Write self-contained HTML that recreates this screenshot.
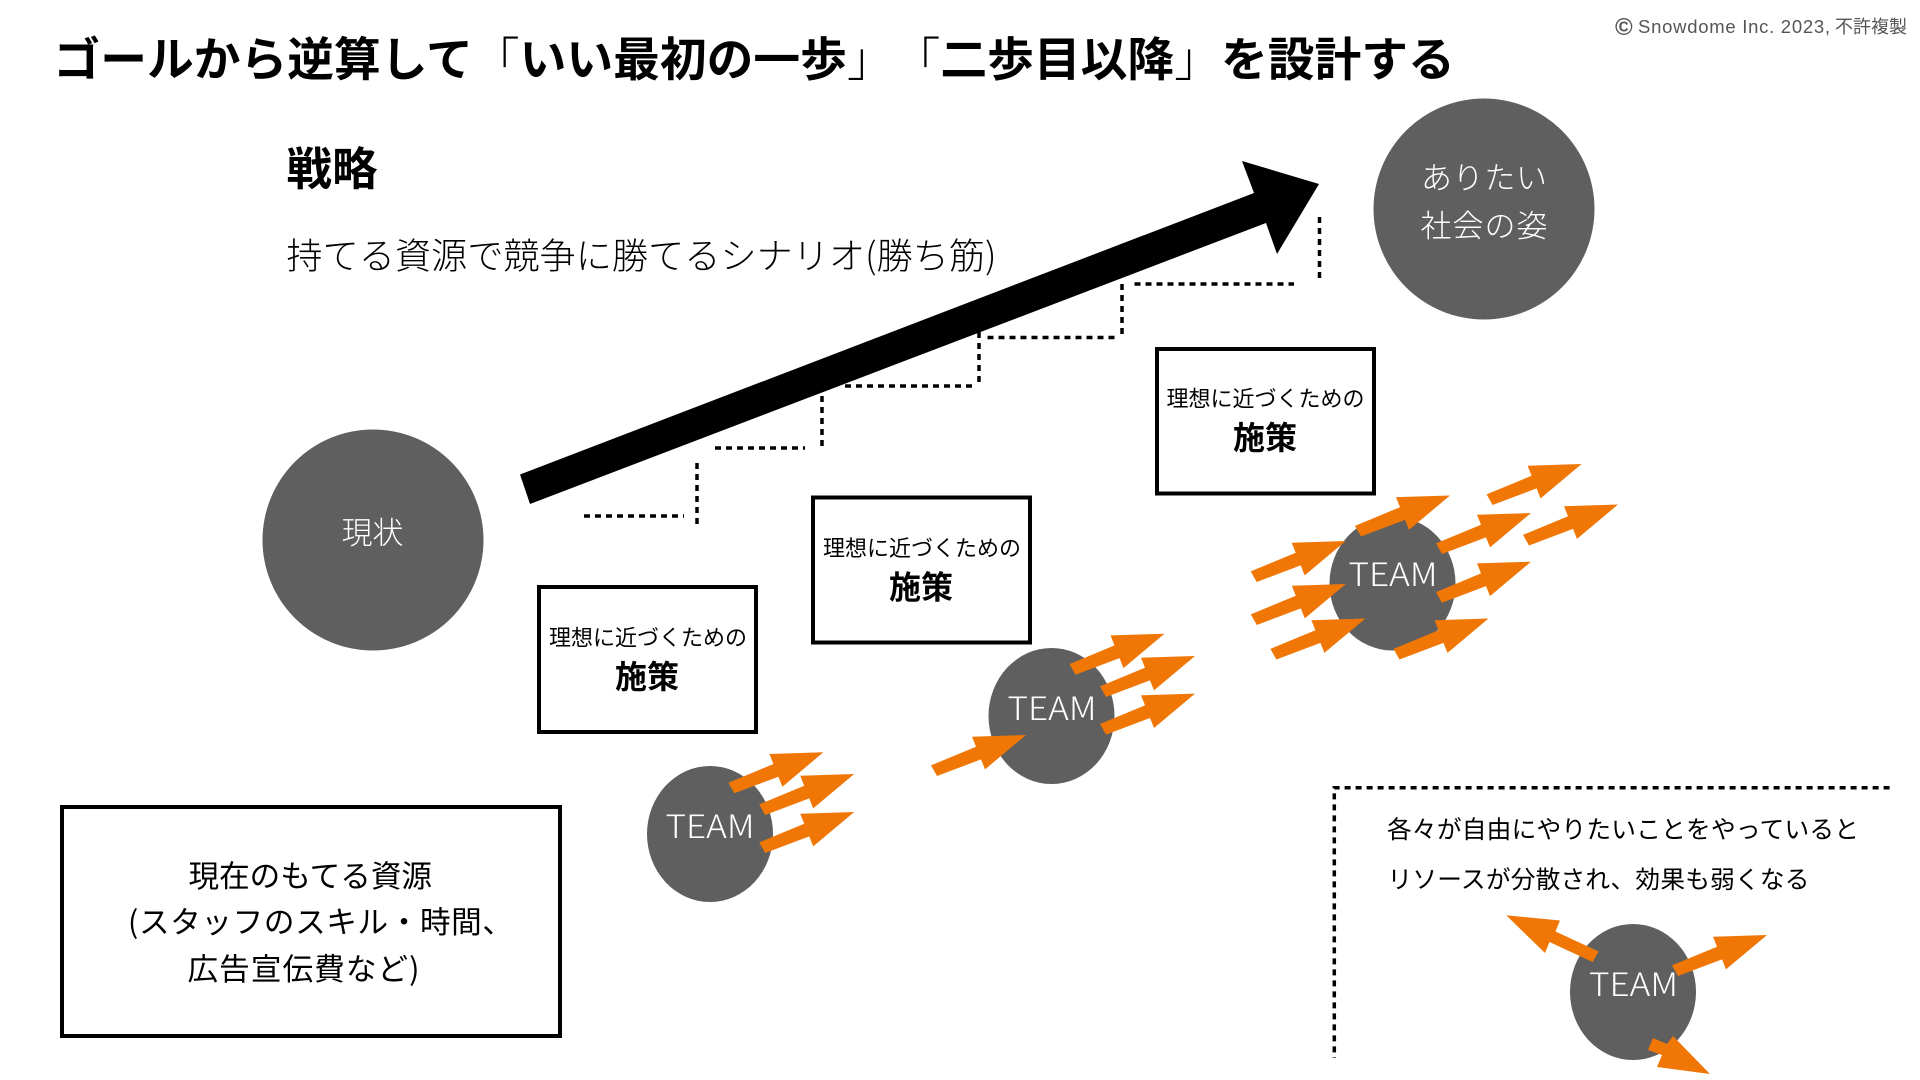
<!DOCTYPE html>
<html lang="ja">
<head>
<meta charset="utf-8">
<title>ゴールから逆算して</title>
<style>
html,body{margin:0;padding:0;background:#fff;width:1920px;height:1080px;overflow:hidden}
svg{display:block}
text{font-family:"Liberation Sans","Noto Sans CJK JP",sans-serif;font-weight:400;fill:#000;text-spacing-trim:space-all}
.j{font-family:"Noto Sans CJK JP","Liberation Sans",sans-serif}
.l{font-weight:300}
.b{font-weight:700}
.w{fill:#fff;font-weight:300}
.t{font-family:"Noto Sans CJK JP","Liberation Sans",sans-serif;font-size:32px;font-weight:300;fill:#fff}
.d{fill:none;stroke:#000;stroke-width:3.5;stroke-dasharray:6 5}
.o{fill:#f07705}
.g{fill:#5f5f5f}
.r{fill:#fff;stroke:#000;stroke-width:4}
.c{fill:#555}
</style>
</head>
<body>
<svg width="1920" height="1080" viewBox="0 0 1920 1080" xmlns="http://www.w3.org/2000/svg">
<rect width="1920" height="1080" fill="#fff"/>

<text class="j b" x="53.5" y="76" font-size="46.75">ゴールから逆算して<tspan font-weight="300">「</tspan>いい最初の一歩<tspan font-weight="300">」「</tspan>二歩目以降<tspan font-weight="300">」</tspan>を設計する</text>
<text class="c b" x="1615" y="35" font-size="24">©</text>
<text class="c" x="1638" y="33" font-size="18.5" textLength="192" lengthAdjust="spacing">Snowdome Inc. 2023,</text>
<text class="j c" x="1835" y="33" font-size="18">不許複製</text>

<text class="j b" x="286.5" y="185" font-size="45.5">戦略</text>
<text class="j l" x="286.5" y="268.5" font-size="36" textLength="710" lengthAdjust="spacing">持てる資源で競争に勝てるシナリオ(勝ち筋)</text>

<polygon points="520,474.5 530,504 1266,223 1277,254 1319,184 1242,161 1254,193" fill="#000"/>

<path class="d" d="M584 516H684M697 463V527M715 448H805M822 396V450M845 386H977M979 332V386M987.5 337.5H1116M1122 284V339M1134.5 284H1294M1319.5 217V282"/>

<circle class="g" cx="373" cy="540" r="110.5"/>
<circle class="g" cx="1484" cy="209" r="110.5"/>
<text class="j w" x="341.5" y="544" font-size="31">現状</text>
<text class="j w" x="1421" y="189" font-size="31" textLength="126" lengthAdjust="spacing">ありたい</text>
<text class="j w" x="1420.5" y="237" font-size="31" textLength="127" lengthAdjust="spacing">社会の姿</text>

<rect class="r" x="539" y="587" width="217" height="145"/>
<text class="j" x="549" y="645.5" font-size="22">理想に近づくための</text>
<text class="j b" x="615" y="688" font-size="32">施策</text>

<rect class="r" x="813" y="497.5" width="217" height="145"/>
<text class="j" x="823" y="556" font-size="22">理想に近づくための</text>
<text class="j b" x="889" y="598.5" font-size="32">施策</text>

<rect class="r" x="1157" y="349" width="217" height="144.5"/>
<text class="j" x="1166.5" y="406.5" font-size="22">理想に近づくための</text>
<text class="j b" x="1233" y="449" font-size="32">施策</text>

<rect class="r" x="62" y="807" width="498" height="229"/>
<text class="j" x="188.5" y="887" font-size="30.6">現在のもてる資源</text>
<text class="j" x="128" y="933" font-size="30.6" textLength="385" lengthAdjust="spacing">(スタッフのスキル・時間、</text>
<text class="j" x="187.5" y="980" font-size="30.6" textLength="232" lengthAdjust="spacing">広告宣伝費など)</text>

<ellipse class="g" cx="710" cy="834" rx="63" ry="68"/>
<ellipse class="g" cx="1051.5" cy="716" rx="63" ry="68"/>
<ellipse class="g" cx="1392.5" cy="583.5" rx="63" ry="67"/>
<ellipse class="g" cx="1633" cy="992" rx="63" ry="68"/>
<text class="t" x="665.5" y="838" textLength="89" lengthAdjust="spacingAndGlyphs">TEAM</text>
<text class="t" x="1007.5" y="720" textLength="89" lengthAdjust="spacingAndGlyphs">TEAM</text>
<text class="t" x="1348.5" y="586" textLength="89" lengthAdjust="spacingAndGlyphs">TEAM</text>
<text class="t" x="1589" y="996" textLength="89" lengthAdjust="spacingAndGlyphs">TEAM</text>

<g class="o">
<polygon transform="translate(823.4 752.3)" points="0,0 -41,34.4 -45,24.4 -89,41 -95,30.4 -50,11.7 -54,1.7"/>
<polygon transform="translate(854.2 774)" points="0,0 -41,34.4 -45,24.4 -89,41 -95,30.4 -50,11.7 -54,1.7"/>
<polygon transform="translate(854.2 812)" points="0,0 -41,34.4 -45,24.4 -89,41 -95,30.4 -50,11.7 -54,1.7"/>
<polygon transform="translate(1164.5 633.7)" points="0,0 -41,34.4 -45,24.4 -89,41 -95,30.4 -50,11.7 -54,1.7"/>
<polygon transform="translate(1195 656)" points="0,0 -41,34.4 -45,24.4 -89,41 -95,30.4 -50,11.7 -54,1.7"/>
<polygon transform="translate(1195 693.6)" points="0,0 -41,34.4 -45,24.4 -89,41 -95,30.4 -50,11.7 -54,1.7"/>
<polygon transform="translate(1026 735)" points="0,0 -41,34.4 -45,24.4 -89,41 -95,30.4 -50,11.7 -54,1.7"/>
<polygon transform="translate(1345.7 541)" points="0,0 -41,34.4 -45,24.4 -89,41 -95,30.4 -50,11.7 -54,1.7"/>
<polygon transform="translate(1345.8 584)" points="0,0 -41,34.4 -45,24.4 -89,41 -95,30.4 -50,11.7 -54,1.7"/>
<polygon transform="translate(1365.4 618.5)" points="0,0 -41,34.4 -45,24.4 -89,41 -95,30.4 -50,11.7 -54,1.7"/>
<polygon transform="translate(1531 561.7)" points="0,0 -41,34.4 -45,24.4 -89,41 -95,30.4 -50,11.7 -54,1.7"/>
<polygon transform="translate(1488.5 618.5)" points="0,0 -41,34.4 -45,24.4 -89,41 -95,30.4 -50,11.7 -54,1.7"/>
<polygon transform="translate(1450 495.5)" points="0,0 -41,34.4 -45,24.4 -89,41 -95,30.4 -50,11.7 -54,1.7"/>
<polygon transform="translate(1581.6 464)" points="0,0 -41,34.4 -45,24.4 -89,41 -95,30.4 -50,11.7 -54,1.7"/>
<polygon transform="translate(1531 513)" points="0,0 -41,34.4 -45,24.4 -89,41 -95,30.4 -50,11.7 -54,1.7"/>
<polygon transform="translate(1618 504.5)" points="0,0 -41,34.4 -45,24.4 -89,41 -95,30.4 -50,11.7 -54,1.7"/>
<polygon transform="translate(1767 935)" points="0,0 -41,34.4 -45,24.4 -89,41 -95,30.4 -50,11.7 -54,1.7"/>
<polygon points="1506.2,915.3 1560,920.5 1555.5,931.5 1598.7,951.5 1592.6,962 1549.5,942 1545,953"/>
<polygon points="1710,1074 1673,1036 1667,1044 1653,1038 1648,1050 1662,1055 1657,1067"/>
</g>

<path class="d" d="M1889.6 787.7H1334.3V1058"/>
<text class="j" x="1387" y="838" font-size="24.7" textLength="472" lengthAdjust="spacing">各々が自由にやりたいことをやっていると</text>
<text class="j" x="1387.5" y="888" font-size="24.7" textLength="422" lengthAdjust="spacing">リソースが分散され、効果も弱くなる</text>
</svg>
</body>
</html>
